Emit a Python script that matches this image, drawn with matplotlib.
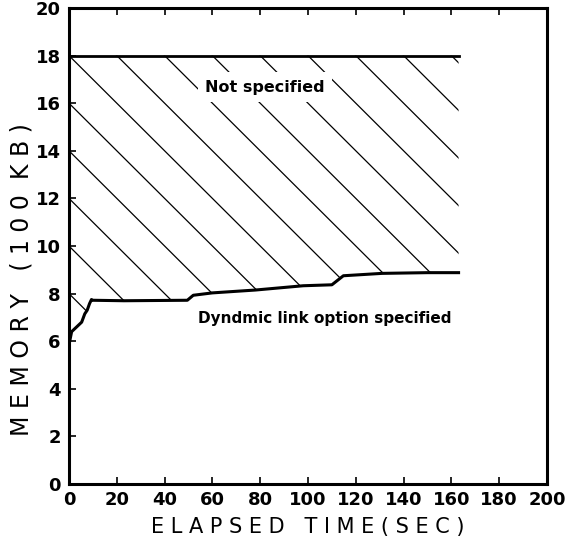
import numpy as np
import matplotlib.pyplot as plt

# memory use vs elapsed time
time_s = [0, 1.1, 5.3, 6.6, 7.6, 8.6, 9.4, 10, 23, 49.5, 52, 60, 78, 98, 110, 114.8, 131, 150, 163]
mem_dynamic = [5.85, 6.4, 6.8, 7.15, 7.3, 7.58, 7.75, 7.72, 7.7, 7.72, 7.93, 8.03, 8.15, 8.33, 8.37, 8.75, 8.85, 8.88, 8.88]
mem_not_spec = [18] * len(time_s)

x_ticks = list(range(0, 201, 20))
y_ticks = list(range(0, 21, 2))

fig = plt.figure(figsize=(5.74, 5.51), dpi=100)
ax = fig.add_axes([69 / 574, 1 - 484 / 551, 478 / 574, 476 / 551])

# shaded band between the two curves, drawn as hand-style diagonal lines
band = ax.fill_between(time_s, mem_dynamic, mem_not_spec, facecolor='none', edgecolor='none')
clip = band.get_paths()[0]
xs = np.array([0, 200])
for c in range(8, 36, 2):
    ln, = ax.plot(xs, c - 0.1 * xs, color='black', lw=0.9, zorder=2)
    ln.set_clip_path(clip, ax.transData)

ax.plot(time_s, mem_not_spec, color='black', lw=2, zorder=4)
ax.plot(time_s, mem_dynamic, color='black', lw=2.2, zorder=4, solid_joinstyle='round')

ax.text(82, 16.68, 'Not specified', ha='center', va='center', fontsize=11.5,
        fontweight='bold', zorder=3,
        bbox=dict(boxstyle='square,pad=0.45', fc='white', ec='none'))
ax.text(107, 6.95, 'Dyndmic link option specified', ha='center', va='center',
        fontsize=11, fontweight='bold', zorder=3)

ax.set_xlim(0, 200)
ax.set_ylim(0, 20)
ax.set_xticks(x_ticks)
ax.set_yticks(y_ticks)
ax.tick_params(axis='both', direction='in', length=5, width=1.2, labelsize=13)
ax.tick_params(axis='x', top=True, pad=5)
ax.tick_params(axis='y', pad=6)
for lab in ax.get_xticklabels() + ax.get_yticklabels():
    lab.set_fontweight('bold')
for sp in ax.spines.values():
    sp.set_linewidth(2.2)

ax.set_xlabel('E L A P S E D   T I M E ( S E C )', fontsize=15, labelpad=6)
ax.set_ylabel('M E M O R Y   ( 1 0 0  K B )', fontsize=17)
ax.yaxis.set_label_coords(-0.075, 0.43)

fig.savefig('out.png', dpi=100)
